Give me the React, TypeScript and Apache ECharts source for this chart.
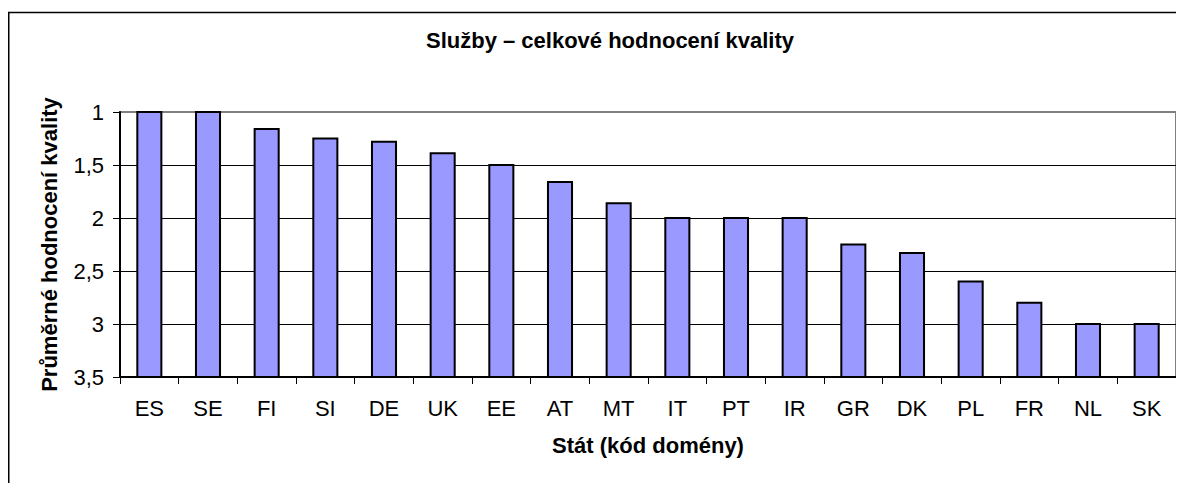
import React, { useEffect, useRef } from "react";
import * as echarts from "echarts";

const categories = ["ES", "SE", "FI", "SI", "DE", "UK", "EE", "AT", "MT", "IT", "PT", "IR", "GR", "DK", "PL", "FR", "NL", "SK"];
const ratings = [1, 1, 1.16, 1.25, 1.28, 1.39, 1.5, 1.66, 1.86, 2, 2, 2, 2.25, 2.33, 2.6, 2.8, 3, 3];
const yMin = 1;
const yMax = 3.5;
const yStep = 0.5;

const FONT = "'Liberation Sans', Arial, sans-serif";

export default function App() {
  const ref = useRef<HTMLDivElement>(null);
  useEffect(() => {
    if (!ref.current) return;
    const chart = echarts.init(ref.current, null, { renderer: "svg" });
    chart.setOption({
      animation: false,
      backgroundColor: "#ffffff",
      title: {
        text: "Služby – celkové hodnocení kvality",
        left: 597,
        textAlign: "center",
        top: 16,
        textStyle: { fontFamily: FONT, fontSize: 22, fontWeight: "bold", color: "#000" },
      },
      graphic: [
        {
          type: "rect",
          shape: { x: 0.75, y: 4.5, width: 1200, height: 1200 },
          style: { fill: "none", stroke: "#000", lineWidth: 1.5 },
          silent: true,
          z: 100,
        },
      ],
      grid: { left: 112, top: 104, right: 8, bottom: 106, show: true, borderColor: "#808080", borderWidth: 2, backgroundColor: "transparent" },
      xAxis: {
        type: "category",
        data: categories,
        name: "Stát (kód domény)",
        nameLocation: "middle",
        nameGap: 57,
        nameTextStyle: { fontFamily: FONT, fontSize: 22, fontWeight: "bold", color: "#000" },
        axisLine: { lineStyle: { color: "#000", width: 2 } },
        axisTick: { show: true, length: 7, lineStyle: { color: "#000", width: 1 } },
        axisLabel: { fontFamily: FONT, fontSize: 22, color: "#000", margin: 20 },
        splitLine: { show: false },
      },
      yAxis: {
        type: "value",
        inverse: true,
        min: yMin,
        max: yMax,
        interval: yStep,
        name: "Průměrné hodnocení kvality",
        nameLocation: "middle",
        nameGap: 60,
        nameRotate: 90,
        nameTextStyle: { fontFamily: FONT, fontSize: 22, fontWeight: "bold", color: "#000" },
        axisLine: { show: true, lineStyle: { color: "#000", width: 2 } },
        axisTick: { show: true, length: 7, lineStyle: { color: "#000", width: 1 } },
        axisLabel: {
          fontFamily: FONT,
          fontSize: 22,
          color: "#000",
          margin: 16,
          formatter: (v: number) => String(v).replace(".", ","),
        },
        splitLine: { show: true, showMinLine: false, showMaxLine: false, lineStyle: { color: "#000", width: 1 } },
      },
      series: [
        {
          type: "custom",
          data: ratings,
          encode: { x: 0, y: 1 },
          renderItem: (params: any, api: any) => {
            const idx = api.value(0);
            const v = api.value(1);
            const top = api.coord([idx, v]);
            const base = api.coord([idx, yMax]);
            const w = api.size([1, 0])[0] * 0.41;
            return {
              type: "rect",
              shape: { x: top[0] - w / 2, y: top[1], width: w, height: base[1] - top[1] },
              style: { fill: "#9999FF", stroke: "#000", lineWidth: 2 },
            };
          },
        },
      ],
    });
    return () => chart.dispose();
  }, []);
  return <div ref={ref} style={{ width: 1176, height: 475 }} />;
}
